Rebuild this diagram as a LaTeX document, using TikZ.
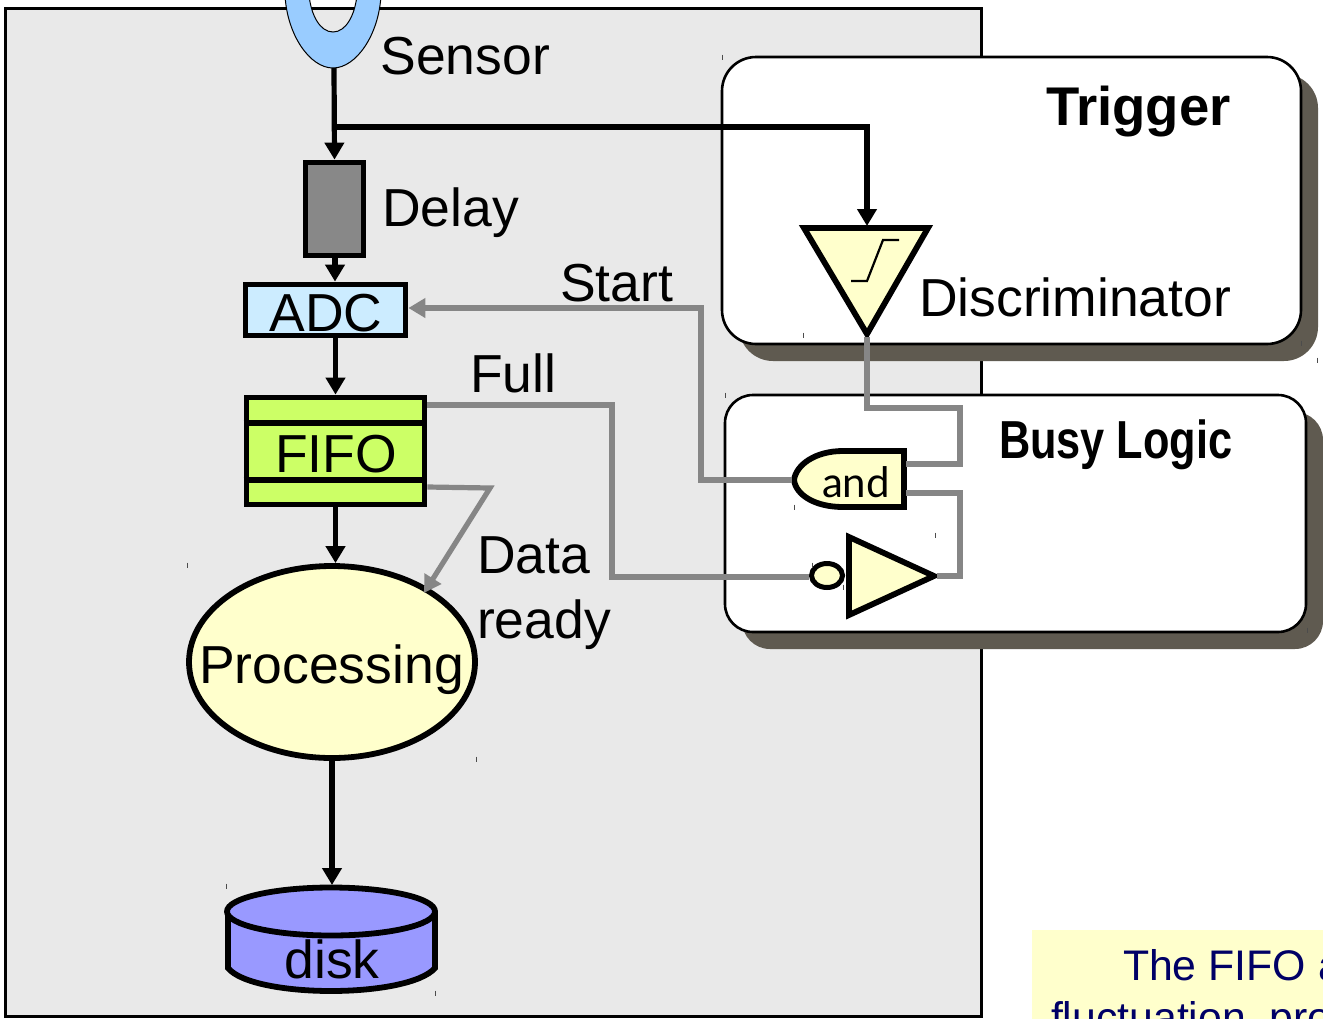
\documentclass[tikz,border=0pt]{standalone}
\usepackage{fontspec}
\setmainfont{Liberation Sans}
\newfontfamily\andfont{Lato}
\usetikzlibrary{arrows.meta,shapes.geometric}
\definecolor{panelc}{HTML}{E9E9E9}
\definecolor{shadowc}{HTML}{5F5A50}
\definecolor{wirec}{HTML}{868686}
\definecolor{pale}{HTML}{FFFFCC}
\definecolor{sensorc}{HTML}{99CCFF}
\definecolor{adcc}{HTML}{CCECFF}
\definecolor{fifoc}{HTML}{CCFF66}
\definecolor{diskc}{HTML}{9999FF}
\definecolor{notec}{HTML}{000066}
\tikzset{
  lbl/.style={inner sep=0pt,outer sep=0pt,font=\fontsize{53.5}{60}\selectfont,anchor=base west},
  lblc/.style={lbl,anchor=base},
  blockbox/.style={draw=black,inner sep=0pt,line width=5.8pt,rectangle},
  roundbox/.style={draw=black,fill=white,line width=2.6pt,rectangle,inner sep=0pt,outer sep=0pt},
  shadowbox/.style={fill=shadowc,rectangle,inner sep=0pt,outer sep=0pt},
  blackwire/.style={draw=black,line width=5.2pt},
  greywire/.style={draw=wirec,line width=5.2pt},
  blacktip/.style={-{Triangle[length=17pt,width=19pt]}},
  greytip/.style={-{Triangle[length=17pt,width=19pt]}},
  gate/.style={draw=black,fill=pale,line width=5.8pt,line join=miter},
  tick/.style={draw=black!70,line width=1pt},
}
\begin{document}
\begin{tikzpicture}[x=1pt,y=-1pt]
\useasboundingbox (0,0) rectangle (1323,1018);
\clip (0,0) rectangle (1323,1018);
\fill[white] (0,0) rectangle (1323,1018);
% panel
\node[draw=black,fill=panelc,line width=3pt,rectangle,inner sep=0pt,minimum width=976pt,minimum height=1008pt] (panel) at (493,512) {};
% note
\fill[pale] (1032,930) rectangle (1330,1030);
\node[lbl,text=notec,font=\fontsize{42.8}{50}\selectfont] (note1) at (1123,980) {The FIFO a};
\node[lbl,text=notec,font=\fontsize{42.8}{50}\selectfont] (note2) at (1051,1032) {fluctuation, pro};
% sensor
\path[fill=sensorc,draw=black,line width=1pt,even odd rule]
  (285,-5) .. controls (287,35) and (310,68) .. (333,68) .. controls (356,68) and (379,35) .. (381,-5) -- cycle
  (309,-5) .. controls (311,15) and (320,32) .. (333,32) .. controls (346,32) and (355,15) .. (357,-5) -- cycle;
\coordinate (sensorout) at (334,68);
% shadows and boxes
\node[shadowbox,rounded corners=34pt,minimum width=579pt,minimum height=287pt] (trigshadow) at (1028.5,217.5) {};
\node[roundbox,rounded corners=34pt,minimum width=579pt,minimum height=287pt] (trigbox) at (1011.5,200.5) {};
\node[shadowbox,rounded corners=28pt,minimum width=581pt,minimum height=237pt] (busyshadow) at (1032.5,530.5) {};
\node[roundbox,rounded corners=28pt,minimum width=581pt,minimum height=237pt] (busybox) at (1015.5,513.5) {};
% blocks
\node[blockbox,fill=black!46.5,minimum width=58pt,minimum height=93pt] (delay) at (334.5,209) {};
\node[blockbox,fill=adcc,line width=5.8pt,minimum width=160pt,minimum height=51pt] (adc) at (325.5,310) {};
\node[blockbox,fill=fifoc,minimum width=178pt,minimum height=107pt] (fifo) at (335.5,451) {};
\draw[black,line width=5.8pt] (fifo.west |- 0,423) -- (fifo.east |- 0,423);
\draw[black,line width=5.8pt] (fifo.west |- 0,480) -- (fifo.east |- 0,480);
\node[ellipse,draw=black,fill=pale,line width=5.8pt,inner sep=0pt,minimum width=286pt,minimum height=192pt] (proc) at (332,662) {};
% disk
\path[fill=diskc,draw=black,line width=5.8pt] (228,912) -- (228,968) .. controls (240,983) and (285,991) .. (331,991) .. controls (377,991) and (422,983) .. (435,968) -- (435,912);
\path[fill=diskc,draw=black,line width=5.8pt] (331,911.5) ellipse[x radius=104,y radius=24];
\coordinate (disktop) at (332,885);
% discriminator
\path[gate] (804,228) -- (928,228) -- (867,334) -- cycle;
\coordinate (discin) at (867,226);
\coordinate (discout) at (867,337);
\draw[black,line width=2.2pt] (851,281) -- (867,281) -- (883,240) -- (899,240);
% and gate
\path[gate] (904,451) -- (843,451) .. controls (815,451) and (796,465) .. (794,480) .. controls (796,495) and (815,507) .. (843,507) -- (904,507) -- cycle;
\coordinate (andin) at (792,480);
\coordinate (andtop) at (906,464);
\coordinate (andbot) at (906,493);
% buffer
\path[gate] (849,537) -- (849,615) -- (934,576) -- cycle;
\coordinate (buftip) at (937,576);
\node[ellipse,draw=black,fill=pale,line width=5pt,inner sep=0pt,minimum width=31pt,minimum height=24pt] (bubble) at (827,575.5) {};
% black wires
\draw[blackwire,blacktip] (sensorout) -- (delay.north);
\draw[blackwire,blacktip] (334,127) -- (867,127) -- (discin);
\draw[blackwire,blacktip] (335,258) -- (adc.north -| 335,0);
\draw[blackwire,blacktip] (adc.south -| fifo.north) -- (fifo.north);
\draw[blackwire,blacktip] (fifo.south) -- (fifo.south |- proc.north);
\draw[blackwire,blacktip] (proc.south) -- (disktop);
% grey wires
\draw[greywire,greytip] (andin) -- (701,480) -- (701,308) -- (adc.east |- 0,308);
\draw[greywire] (fifo.east |- 0,405) -- (612,405) -- (612,577) -- (bubble.west |- 0,577);
\draw[greywire,greytip] (fifo.east |- 0,487) -- (490,488) -- (424,593);
\draw[greywire] (discout) -- (867,408) -- (960,408) -- (960,464) -- (andtop);
\draw[greywire] (andbot) -- (960,493) -- (960,576) -- (buftip);
% labels
\node[lbl] (lsensor) at (380.5,74) {Sensor};
\node[lbl] (ldelay) at (382,226) {Delay};
\node[lbl] (ldisc) at (919,316) {Discriminator};
\node[lbl] (lstart) at (560,301) {Start};
\node[lbl] (lfull) at (470,392) {Full};
\node[lbl] (ldata) at (477,573) {Data};
\node[lbl] (lready) at (477,638) {ready};
\node[lblc] (lproc) at (331.5,683) {Processing};
\node[lblc] (ladc) at (326,331) {ADC};
\node[lblc] (lfifo) at (336,472) {FIFO};
\node[lblc] (ldisk) at (332,978) {disk};
\node[lbl,font=\fontsize{54.5}{60}\selectfont\bfseries] (ltrig) at (1046,125) {Trigger};
\node[lbl,font=\fontsize{53.5}{60}\selectfont\bfseries,xscale=.81] (lbusy) at (999,458) {Busy Logic};
\node[lblc,font=\fontsize{42}{50}\selectfont\andfont] (land) at (856,497) {and};
% handle ticks
\foreach \tx/\ty in {187/565,476/759,226/886,435/993,722/57,803/335,725/395,794/507,935/535,812/565,843/587,1301/343,1307/630,1317/360}
  \draw[tick] (\tx,\ty-2.5) -- (\tx,\ty+2.5);
\end{tikzpicture}
\end{document}
